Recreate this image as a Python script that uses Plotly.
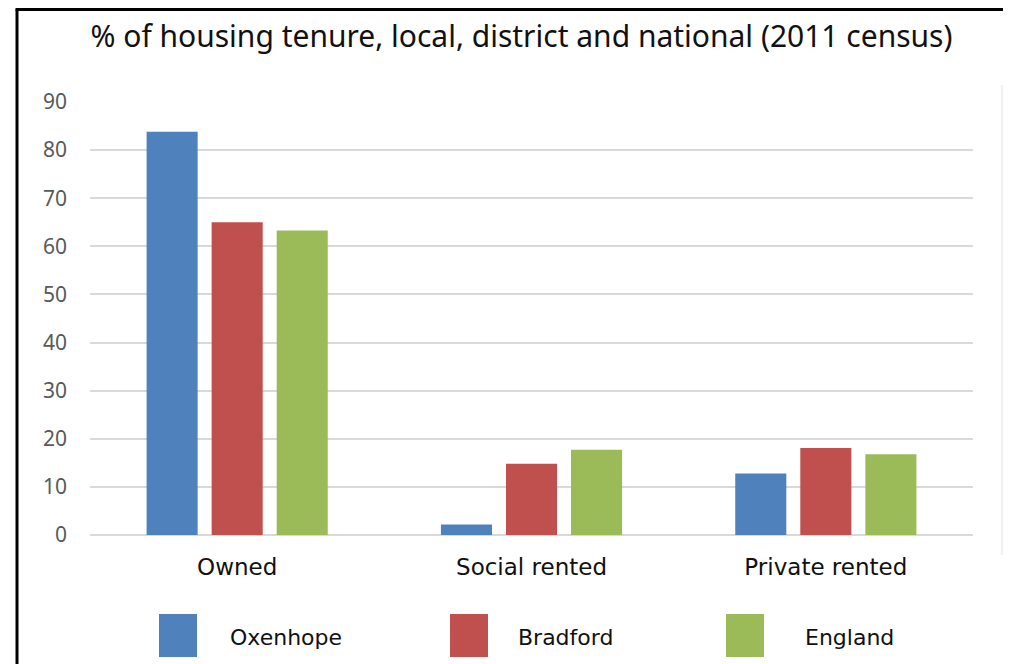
import plotly.graph_objects as go

categories = ["Owned", "Social rented", "Private rented"]
series_names = ["Oxenhope", "Bradford", "England"]
oxenhope = [83.8, 2.2, 12.8]
bradford = [65.0, 14.8, 18.1]
england = [63.3, 17.7, 16.8]
colors = ["#4F81BD", "#C0504D", "#9BBB59"]
y_ticks = [0, 10, 20, 30, 40, 50, 60, 70, 80, 90]

# page has an 8px body margin, so the figure sits at (8, 8)
OFF = 8
W, H = 1011 - OFF, 664 - OFF
L, R, T, B = 90 - OFF, 973 - OFF, 102 - OFF, 535 - OFF


def px_x(x):
    # x given in page pixels
    return (x - OFF - L) / (R - L)


def px_y(y):
    return (B - (y - OFF)) / (B - T)


fig = go.Figure()
for name, vals, col in zip(series_names, [oxenhope, bradford, england], colors):
    fig.add_trace(go.Bar(x=categories, y=vals, name=name, marker_color=col,
                         marker_line_width=0, showlegend=False))

shapes = [
    # outer frame (left and top)
    dict(type="line", xref="paper", yref="paper", x0=px_x(17), x1=px_x(17),
         y0=px_y(9.5), y1=px_y(700), line=dict(color="black", width=3)),
    dict(type="line", xref="paper", yref="paper", x0=px_x(15.5), x1=px_x(1020),
         y0=px_y(9.5), y1=px_y(9.5), line=dict(color="black", width=3)),
    # faint right separator
    dict(type="line", xref="paper", yref="paper", x0=px_x(1002), x1=px_x(1002),
         y0=px_y(85), y1=px_y(555), line=dict(color="#ececec", width=1.5)),
]
annotations = []
legend_pos = [(159, 228), (450, 516), (726, 803)]
for (sx, tx), name, col in zip(legend_pos, series_names, colors):
    shapes.append(dict(type="rect", xref="paper", yref="paper",
                       x0=px_x(sx), x1=px_x(sx + 38), y0=px_y(657), y1=px_y(614),
                       fillcolor=col, line_width=0))
    annotations.append(dict(text=name, xref="paper", yref="paper", x=px_x(tx), y=px_y(637),
                            xanchor="left", yanchor="middle", showarrow=False,
                            font=dict(family="DejaVu Sans", size=22, color="#111111")))

fig.update_layout(
    width=W, height=H,
    margin=dict(l=L, r=W - R, t=T, b=H - B),
    paper_bgcolor="white", plot_bgcolor="white",
    title=dict(text="% of housing tenure, local, district and national (2011 census)",
               x=(521.5 - OFF) / W, xanchor="center", y=1 - (36 - OFF) / H, yanchor="middle",
               font=dict(family="Noto Sans", size=30, color="#111111")),
    barmode="group", bargap=0.337, bargroupgap=0.215,
    shapes=shapes, annotations=annotations,
    showlegend=False,
)
fig.update_yaxes(range=[0, 90], tickvals=y_ticks, showgrid=True, gridcolor="#d9d9d9",
                 gridwidth=2, zeroline=True, zerolinecolor="#d9d9d9", zerolinewidth=2,
                 showline=False, ticks="", ticklabelstandoff=22,
                 tickfont=dict(family="Noto Sans", size=21, color="#595959"))
fig.update_xaxes(showline=False, ticks="", ticklabelstandoff=16,
                 tickfont=dict(family="DejaVu Sans", size=23, color="#111111"))

fig.write_html("out.html")
